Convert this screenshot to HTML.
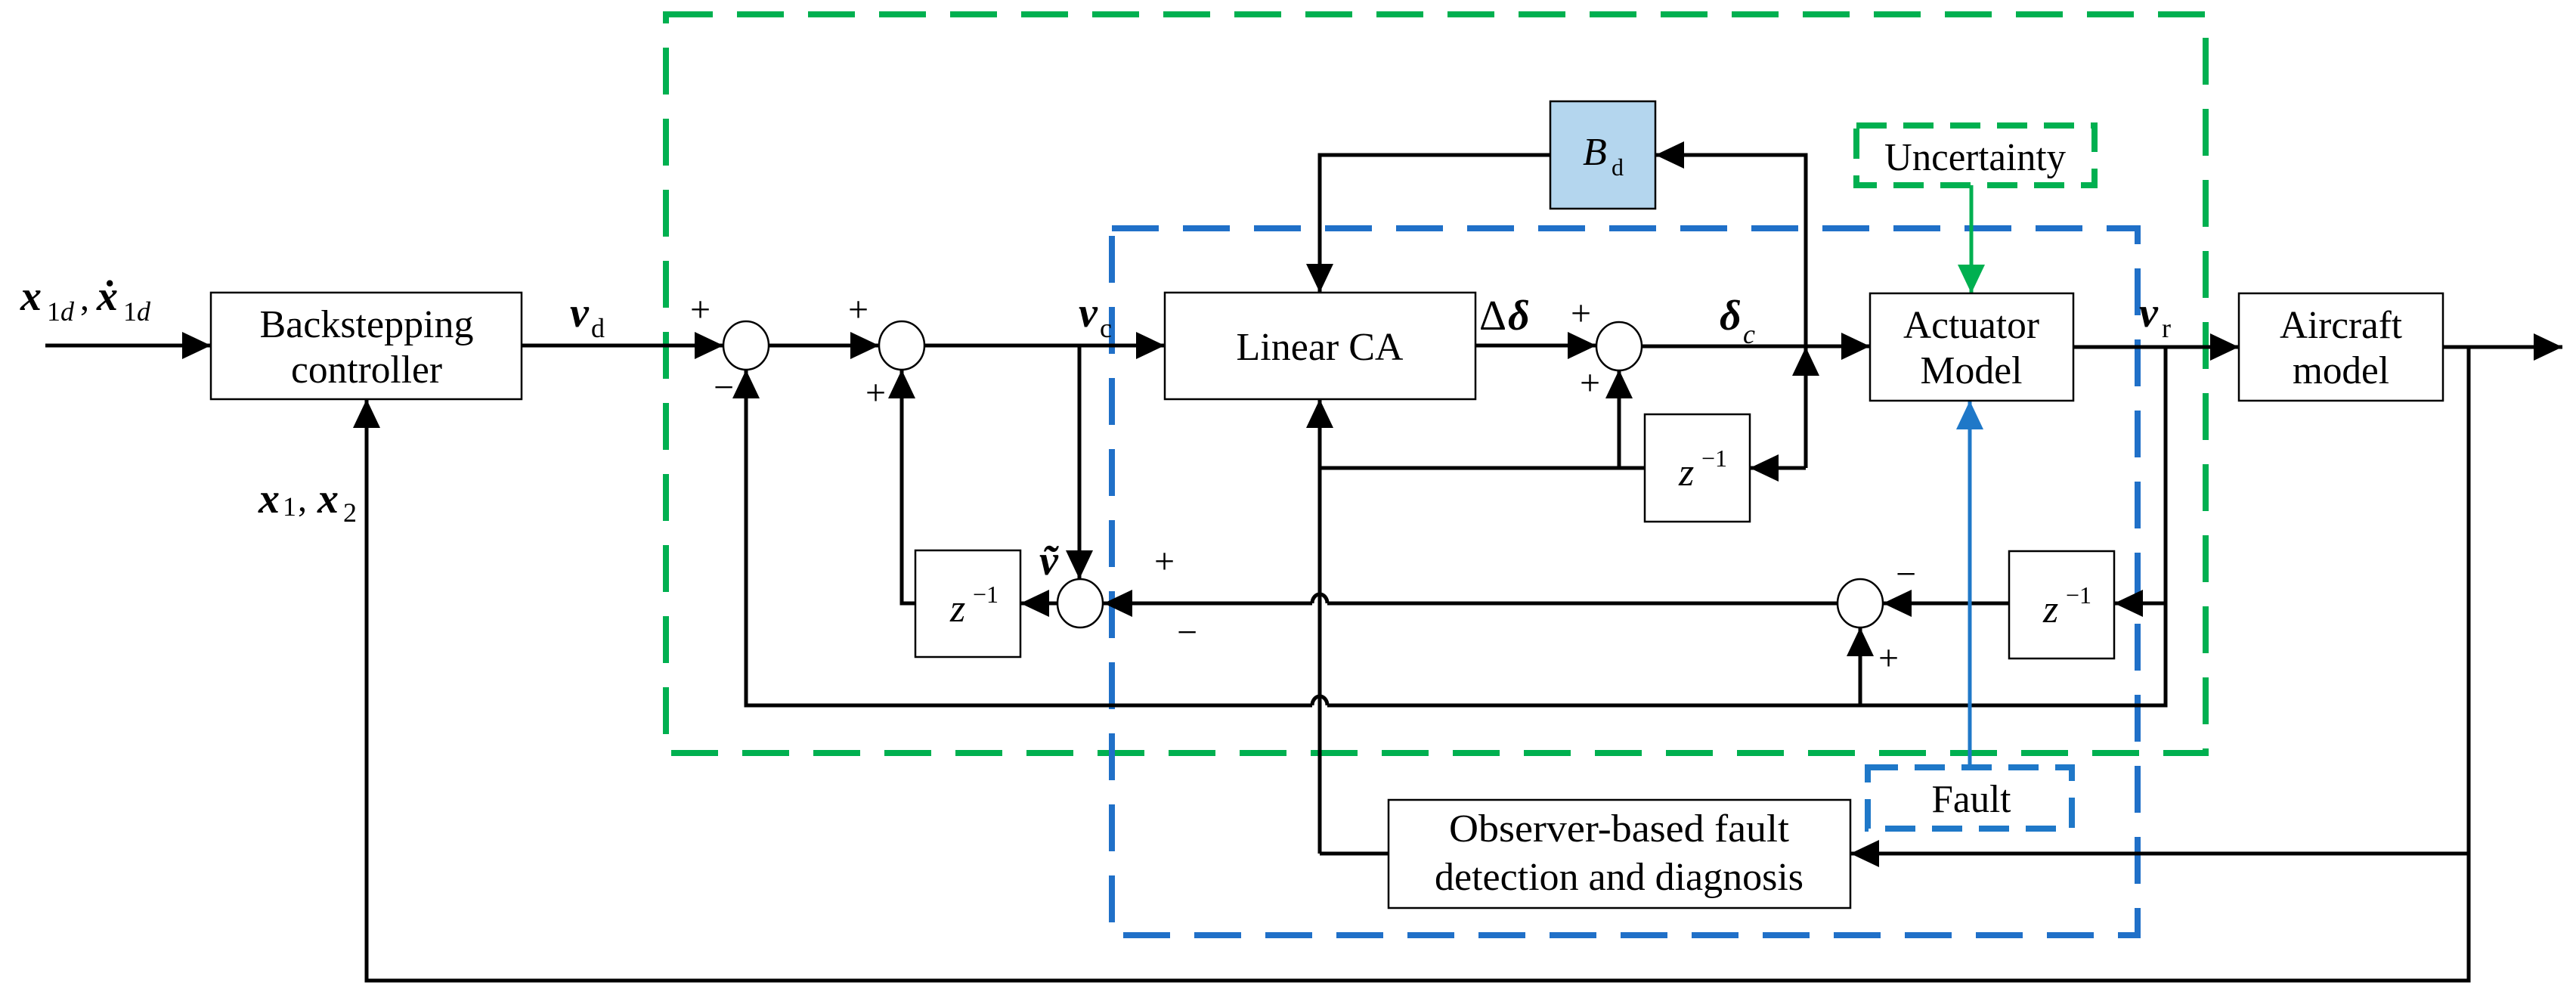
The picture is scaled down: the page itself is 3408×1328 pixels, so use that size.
<!DOCTYPE html>
<html><head><meta charset="utf-8"><style>
html,body{margin:0;padding:0;background:#fff;}
svg{display:block;}
text{font-family:"Liberation Serif",serif;fill:#000;}
</style></head><body>
<svg width="3408" height="1328" viewBox="0 0 3408 1328" xmlns="http://www.w3.org/2000/svg">
<defs>
<marker id="a" markerUnits="userSpaceOnUse" markerWidth="40" markerHeight="40" refX="38" refY="20" orient="auto"><path d="M0,2 L38,20 L0,38 Z" fill="#000"/></marker>
<marker id="ag" markerUnits="userSpaceOnUse" markerWidth="40" markerHeight="40" refX="38" refY="20" orient="auto"><path d="M0,2 L38,20 L0,38 Z" fill="#00b050"/></marker>
<marker id="ab" markerUnits="userSpaceOnUse" markerWidth="40" markerHeight="40" refX="38" refY="20" orient="auto"><path d="M0,2 L38,20 L0,38 Z" fill="#1f78c8"/></marker>
</defs>

<!-- dashed regions -->
<rect x="881" y="19" width="2037" height="977" fill="none" stroke="#00b050" stroke-width="8" stroke-dasharray="62,32"/>
<rect x="1471" y="302" width="1357" height="935" fill="none" stroke="#2070c8" stroke-width="8" stroke-dasharray="62,32"/>
<rect x="2456" y="166" width="315" height="79" fill="none" stroke="#00b050" stroke-width="8" stroke-dasharray="40,22"/>
<rect x="2471" y="1015" width="270" height="81" fill="none" stroke="#1f78c8" stroke-width="8" stroke-dasharray="40,22"/>

<g stroke="#000" stroke-width="5" fill="none">
<!-- input -->
<line x1="60" y1="457" x2="279" y2="457" marker-end="url(#a)"/>
<line x1="690" y1="457" x2="957" y2="457" marker-end="url(#a)"/>
<line x1="1017" y1="457" x2="1163" y2="457" marker-end="url(#a)"/>
<line x1="1223" y1="457" x2="1541" y2="457" marker-end="url(#a)"/>
<line x1="1428" y1="457" x2="1428" y2="766" marker-end="url(#a)"/>
<line x1="1398" y1="798" x2="1350" y2="798" marker-end="url(#a)"/>
<polyline points="1211,798 1193,798 1193,489" marker-end="url(#a)"/>
<!-- sum1 bottom feedback from vr -->
<polyline points="2865,459 2865,933 1756,933"/>
<path d="M1756,933 A10,12 0 0 0 1736,933"/>
<polyline points="1736,933 987,933 987,489" marker-end="url(#a)"/>
<!-- sum5 feedback -->
<line x1="2461" y1="933" x2="2461" y2="830" marker-end="url(#a)"/>
<line x1="2865" y1="798" x2="2797" y2="798" marker-end="url(#a)"/>
<line x1="2658" y1="798" x2="2491" y2="798" marker-end="url(#a)"/>
<line x1="2431" y1="798" x2="1756" y2="798"/>
<path d="M1756,798 A10,12 0 0 0 1736,798"/>
<line x1="1736" y1="798" x2="1460" y2="798" marker-end="url(#a)"/>
<!-- linear CA output -->
<line x1="1952" y1="457" x2="2112" y2="457" marker-end="url(#a)"/>
<line x1="2172" y1="458" x2="2474" y2="458" marker-end="url(#a)"/>
<line x1="2389" y1="619" x2="2389" y2="459" marker-end="url(#a)"/>
<polyline points="2389,459 2389,205 2190,205" marker-end="url(#a)"/>
<line x1="2389" y1="619" x2="2315" y2="619" marker-end="url(#a)"/>
<polyline points="2051,205 1746,205 1746,387" marker-end="url(#a)"/>
<line x1="2176" y1="619" x2="1746" y2="619"/>
<line x1="2142" y1="619" x2="2142" y2="489" marker-end="url(#a)"/>
<line x1="1746" y1="1129" x2="1746" y2="528" marker-end="url(#a)"/>
<line x1="1746" y1="1129" x2="1837" y2="1129"/>
<!-- actuator to aircraft -->
<line x1="2743" y1="459" x2="2962" y2="459" marker-end="url(#a)"/>
<line x1="3232" y1="459" x2="3390" y2="459" marker-end="url(#a)"/>
<polyline points="3266,459 3266,1297 485,1297 485,528" marker-end="url(#a)"/>
<line x1="3266" y1="1129" x2="2448" y2="1129" marker-end="url(#a)"/>
</g>
<line x1="2608" y1="245" x2="2608" y2="388" stroke="#00b050" stroke-width="5" marker-end="url(#ag)"/>
<line x1="2606" y1="1015" x2="2606" y2="530" stroke="#1f78c8" stroke-width="5" marker-end="url(#ab)"/>

<!-- sums -->
<g stroke="#000" stroke-width="2.5" fill="#fff">
<ellipse cx="987" cy="457" rx="30" ry="32"/>
<ellipse cx="1193" cy="457" rx="30" ry="32"/>
<ellipse cx="1429" cy="798" rx="30" ry="32"/>
<ellipse cx="2142" cy="458" rx="30" ry="32"/>
<ellipse cx="2461" cy="798" rx="30" ry="32"/>
<!-- boxes -->
<rect x="279" y="387" width="411" height="141"/>
<rect x="1541" y="387" width="411" height="141"/>
<rect x="2474" y="388" width="269" height="142"/>
<rect x="2962" y="388" width="270" height="142"/>
<rect x="1837" y="1058" width="611" height="143"/>
<rect x="1211" y="728" width="139" height="141"/>
<rect x="2176" y="548" width="139" height="142"/>
<rect x="2658" y="729" width="139" height="142"/>
<rect x="2051" y="134" width="139" height="142" fill="#b4d6ee"/>
</g>

<!-- box texts -->
<g font-size="52" text-anchor="middle" lengthAdjust="spacingAndGlyphs">
<text x="485" y="446" textLength="283" lengthAdjust="spacingAndGlyphs">Backstepping</text>
<text x="485" y="506" textLength="200" lengthAdjust="spacingAndGlyphs">controller</text>
<text x="1746" y="476">Linear CA</text>
<text x="2608" y="447" textLength="180" lengthAdjust="spacingAndGlyphs">Actuator</text>
<text x="2608" y="507" textLength="135" lengthAdjust="spacingAndGlyphs">Model</text>
<text x="3097" y="447" textLength="162" lengthAdjust="spacingAndGlyphs">Aircraft</text>
<text x="3097" y="507" textLength="128" lengthAdjust="spacingAndGlyphs">model</text>
<text x="2142" y="1113" textLength="450" lengthAdjust="spacingAndGlyphs">Observer-based  fault</text>
<text x="2142" y="1177" textLength="488" lengthAdjust="spacingAndGlyphs">detection and diagnosis</text>
<text x="2613" y="225" textLength="240" lengthAdjust="spacingAndGlyphs">Uncertainty</text>
<text x="2608" y="1074" textLength="105" lengthAdjust="spacingAndGlyphs">Fault</text>
</g>

<!-- z^-1 -->
<g font-size="52" font-style="italic">
<text x="1257" y="822">z</text><text x="1287" y="797" font-size="32" font-style="normal">−1</text>
<text x="2221" y="642">z</text><text x="2251" y="617" font-size="32" font-style="normal">−1</text>
<text x="2703" y="823">z</text><text x="2733" y="798" font-size="32" font-style="normal">−1</text>
<text x="2094" y="218">B</text><text x="2132" y="232" font-size="32" font-style="normal">d</text>
</g>

<!-- math labels -->
<g font-size="56" font-weight="bold" font-style="italic">
<text x="27" y="410">x</text><text x="128" y="410">ẋ</text>
<text x="754" y="432">v</text>
<text x="1427" y="432">v</text>
<text x="1375" y="760">ṽ</text>
<text x="342" y="678">x</text><text x="420" y="678">x</text>
<text x="2275" y="436">δ</text>
<text x="2830" y="432">v</text>
<text x="1995" y="436">δ</text>
</g>
<g font-size="36">
<text x="62" y="424" font-style="italic"><tspan font-style="normal">1</tspan>d</text>
<text x="106" y="410" font-size="48">,</text>
<text x="163" y="424" font-style="italic"><tspan font-style="normal">1</tspan>d</text>
<text x="782" y="446">d</text>
<text x="1455" y="446">c</text>
<text x="374" y="682">1</text><text x="394" y="676" font-size="48">,</text><text x="454" y="690">2</text>
<text x="2306" y="454" font-style="italic">c</text>
<text x="2860" y="446">r</text>
<text x="1957" y="436" font-size="56">Δ</text>
</g>
<g font-size="48">
<text x="913" y="425">+</text>
<text x="944" y="528">−</text>
<text x="1122" y="425">+</text>
<text x="1145" y="535">+</text>
<text x="1527" y="758">+</text>
<text x="1557" y="852">−</text>
<text x="2078" y="430">+</text>
<text x="2090" y="522">+</text>
<text x="2508" y="775">−</text>
<text x="2485" y="886">+</text>
</g>
</svg>
</body></html>
